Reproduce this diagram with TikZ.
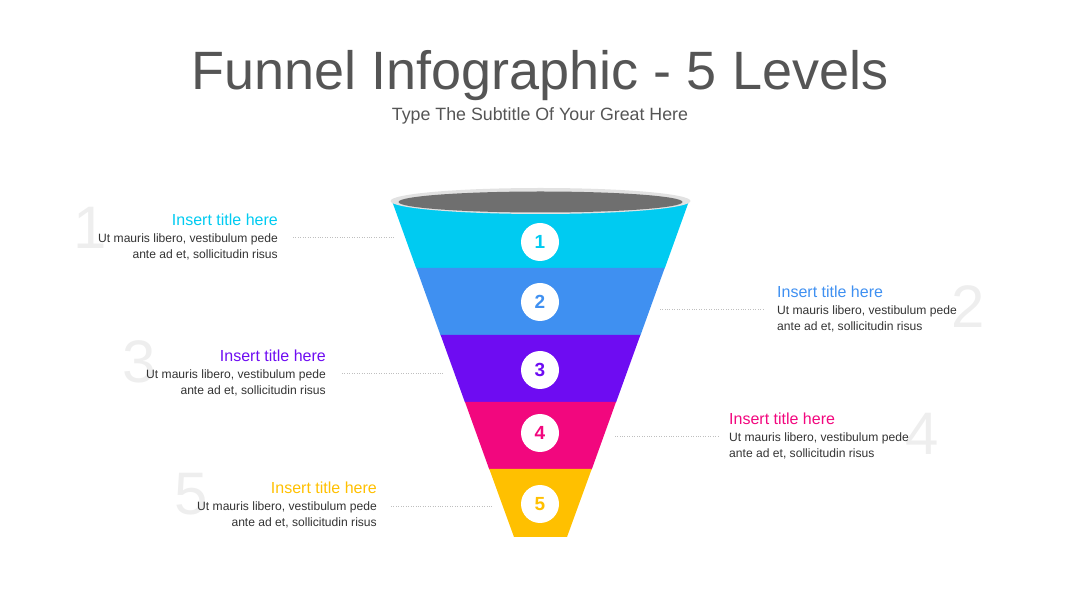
\documentclass[tikz,border=0pt]{standalone}
\usepackage{fontspec}
\setmainfont{Liberation Sans}
\usepackage{tikz}
\usetikzlibrary{positioning,calc}
\definecolor{ink}{HTML}{555555}
\definecolor{body}{HTML}{333333}
\definecolor{ghost}{HTML}{EEEEEE}
\definecolor{lvlA}{HTML}{00CBF1}
\definecolor{lvlB}{HTML}{3F90F1}
\definecolor{lvlC}{HTML}{6E0CF2}
\definecolor{lvlD}{HTML}{F2077E}
\definecolor{lvlE}{HTML}{FFC000}
\definecolor{rim}{HTML}{E2E2E2}
\definecolor{hole}{HTML}{6F6F6F}
\tikzset{x=1pt,y=-1pt,
  ttl/.style={font=\fontsize{16}{18}\selectfont,inner sep=0pt},
  txt/.style={font=\fontsize{12.1}{15.5}\selectfont,text=body,inner sep=0pt},
  bignum/.style={font=\fontsize{60}{60}\selectfont,text=ghost,inner sep=0pt},
  badge/.style={circle,fill=white,minimum size=38pt,inner sep=0pt,font=\bfseries\fontsize{19}{19}\selectfont},
  lead/.style={draw=black!25,dotted,line width=0.45pt}}

\begin{document}
\begin{tikzpicture}
\useasboundingbox (0,0) rectangle (1080,609);
% heading
\node[font=\fontsize{54}{54}\selectfont,text=ink] (head) at (540,76) {Funnel Infographic - 5 Levels};
\node[font=\fontsize{17.8}{18}\selectfont,text=ink] (sub) at (540,116) {Type The Subtitle Of Your Great Here};
% funnel bands
\fill[lvlA] (392,201) -- (689,201) -- (664.7,268.5) -- (416.3,268.5) -- cycle;
\fill[lvlB] (416.3,268) -- (664.7,268) -- (640.4,335.5) -- (440.6,335.5) -- cycle;
\fill[lvlC] (440.6,335) -- (640.4,335) -- (616,402.5) -- (465,402.5) -- cycle;
\fill[lvlD] (465,402) -- (616,402) -- (591.7,469.5) -- (489.3,469.5) -- cycle;
\fill[lvlE] (489.3,469) -- (591.7,469) -- (567,537) -- (514,537) -- cycle;
\fill[rim] (540.5,201) ellipse [x radius=150, y radius=13];
\fill[hole] (540.5,202) ellipse [x radius=142, y radius=10.5];
% badges
\node[badge,text=lvlA] (n1) at (540,242) {1};
\node[badge,text=lvlB] (n2) at (540,302) {2};
\node[badge,text=lvlC] (n3) at (540,370) {3};
\node[badge,text=lvlD] (n4) at (540,433) {4};
\node[badge,text=lvlE] (n5) at (540,504) {5};
% ghost numbers
\node[bignum] (g1) at (90,228) {1};
\node[bignum] (g2) at (968,307) {2};
\node[bignum] (g3) at (139,362) {3};
\node[bignum] (g4) at (922,434) {4};
\node[bignum] (g5) at (191,494) {5};
% level 1
\node[ttl,text=lvlA,anchor=east] (t1) at (278,220) {Insert title here};
\node[txt,align=right,anchor=north east] (b1) at (278,234) {Ut mauris libero, vestibulum pede\\ante ad et, sollicitudin risus};
% level 2
\node[ttl,text=lvlB,anchor=west] (t2) at (777,292) {Insert title here};
\node[txt,align=left,anchor=north west] (b2) at (777,306) {Ut mauris libero, vestibulum pede\\ante ad et, sollicitudin risus};
% level 3
\node[ttl,text=lvlC,anchor=east] (t3) at (326,356) {Insert title here};
\node[txt,align=right,anchor=north east] (b3) at (326,370) {Ut mauris libero, vestibulum pede\\ante ad et, sollicitudin risus};
% level 4
\node[ttl,text=lvlD,anchor=west] (t4) at (729,419) {Insert title here};
\node[txt,align=left,anchor=north west] (b4) at (729,433) {Ut mauris libero, vestibulum pede\\ante ad et, sollicitudin risus};
% level 5
\node[ttl,text=lvlE,anchor=east] (t5) at (377,488) {Insert title here};
\node[txt,align=right,anchor=north east] (b5) at (377,502) {Ut mauris libero, vestibulum pede\\ante ad et, sollicitudin risus};
% leaders
\coordinate (e1) at (395,237);
\coordinate (e2) at (660,309);
\coordinate (e3) at (443,373);
\coordinate (e4) at (614,436);
\coordinate (e5) at (493,506);
\draw[lead] (b1.east |- e1) ++(15,0) -- (e1);
\draw[lead] (b2.west |- e2) ++(-14,0) -- (e2);
\draw[lead] (b3.east |- e3) ++(16,0) -- (e3);
\draw[lead] (b4.west |- e4) ++(-11,0) -- (e4);
\draw[lead] (b5.east |- e5) ++(14,0) -- (e5);
\end{tikzpicture}
\end{document}
